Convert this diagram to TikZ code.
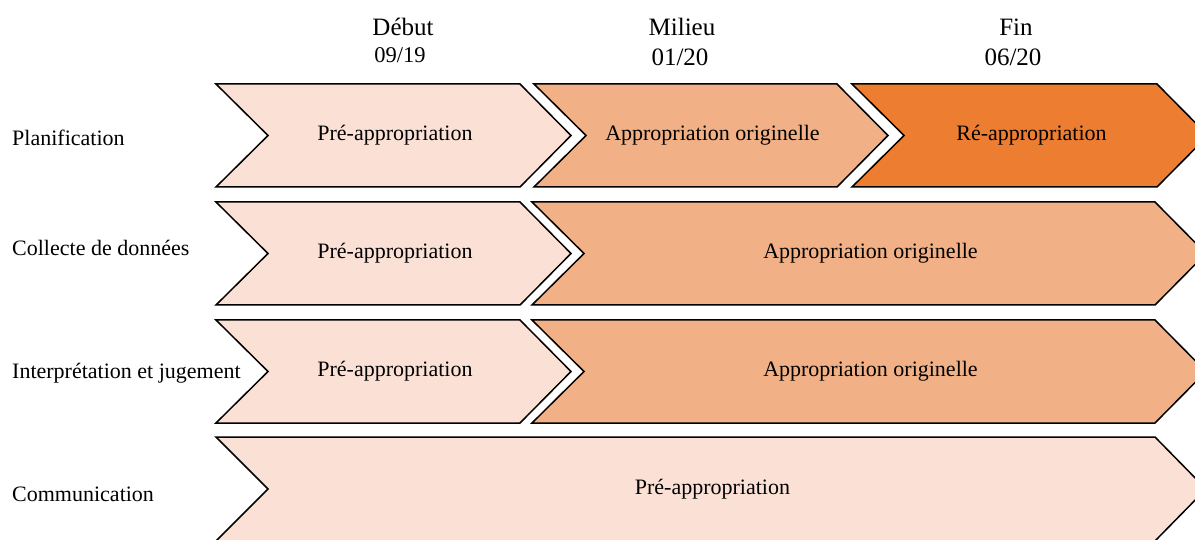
\documentclass[tikz,border=0pt]{standalone}
\usepackage{fontspec}
\setmainfont{Liberation Serif}
\definecolor{paleorange}{HTML}{FBE1D5}
\definecolor{midorange}{HTML}{F1B085}
\definecolor{deeporange}{HTML}{ED7D31}
\tikzset{
  chevbox/.style={draw=black, line width=1.5pt, line join=miter},
  chevtext/.style={font=\fontsize{22}{24}\selectfont, inner sep=0pt},
  rowlabel/.style={font=\fontsize{22}{24}\selectfont, anchor=west, inner sep=0pt},
  phase/.style={font=\fontsize{25}{27}\selectfont, inner sep=0pt},
}
% #1 name, #2 left x, #3 right corner x, #4 top y, #5 bottom y, #6 fill, #7 text
\newcommand{\chevron}[7]{%
  \draw[chevbox, fill=#6] (#2,#4) -- (#3,#4) -- ({#3+51},{(#4+#5)/2}) -- (#3,#5)
    -- (#2,#5) -- ({#2+52},{(#4+#5)/2}) -- cycle;
  \node[chevtext] (#1) at ({(#2+#3)/2+27},{(#4+#5)/2}) {#7};%
}
\begin{document}
\begin{tikzpicture}[x=1pt, y=-1pt]
  \clip (0,0) rectangle (1195,540);
  \fill[white] (0,0) rectangle (1195,540);

  % phase headers
  \node[phase] (debut)  at (403,27) {Début};
  \node[phase, font=\fontsize{22.5}{24}\selectfont] (d1) at (400,55) {09/19};
  \node[phase] (milieu) at (682,27) {Milieu};
  \node[phase] (d2)     at (680,57) {01/20};
  \node[phase] (fin)    at (1016,27) {Fin};
  \node[phase] (d3)     at (1013,57) {06/20};

  % row labels
  \node[rowlabel] (l1) at (12,138) {Planification};
  \node[rowlabel] (l2) at (12,248) {Collecte de données};
  \node[rowlabel] (l3) at (12,373) {Interprétation et jugement};
  \node[rowlabel] (l4) at (12,494) {Communication};

  % planification
  \chevron{a1}{216}{520}{84}{187}{paleorange}{Pré-appropriation}
  \chevron{a2}{534}{837}{84}{187}{midorange}{Appropriation originelle}
  \chevron{a3}{852}{1157}{84}{187}{deeporange}{Ré-appropriation}

  % collecte de données
  \chevron{b1}{216}{520}{202}{305}{paleorange}{Pré-appropriation}
  \chevron{b2}{532}{1155}{202}{305}{midorange}{Appropriation originelle}

  % interprétation et jugement
  \chevron{c1}{216}{520}{320}{423}{paleorange}{Pré-appropriation}
  \chevron{c2}{532}{1155}{320}{423}{midorange}{Appropriation originelle}

  % communication
  \chevron{e1}{216}{1155}{437}{541}{paleorange}{Pré-appropriation}
\end{tikzpicture}
\end{document}
